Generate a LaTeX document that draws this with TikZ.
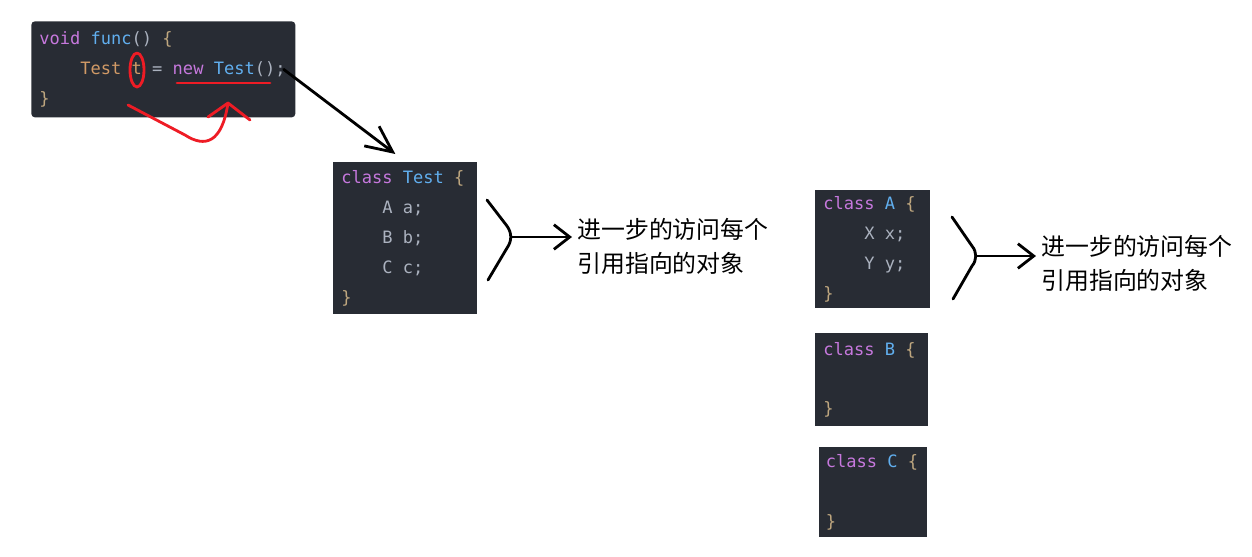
\documentclass[tikz,border=0pt]{standalone}
\usepackage{fontspec}
\setmonofont{DejaVu Sans Mono}[WordSpace={1,0,0}]
\newfontfamily\cjk{Noto Sans CJK SC}
\usepackage{tikz}
\usetikzlibrary{positioning,arrows.meta}
\usepackage{xcolor}
\definecolor{codebg}{HTML}{282C34}
\definecolor{codekw}{HTML}{C678DD}
\definecolor{codefn}{HTML}{61AFEF}
\definecolor{codety}{HTML}{D19A66}
\definecolor{codeplain}{HTML}{ABB2BF}
\definecolor{codebrace}{HTML}{BFA77F}
\definecolor{penred}{HTML}{EE1C25}
\newcommand\ckw[1]{\textcolor{codekw}{#1}}
\newcommand\cfn[1]{\textcolor{codefn}{#1}}
\newcommand\cty[1]{\textcolor{codety}{#1}}
\newcommand\cbr[1]{\textcolor{codebrace}{#1}}
\newcommand\ind{\phantom{XXXX}}

\begin{document}
\begin{tikzpicture}[
  x=0.02cm,y=-0.02cm,
  line cap=round,line join=round,
  code/.style={fill=codebg,anchor=north west,inner xsep=0.16cm,inner ysep=0pt,align=left,
    font=\ttfamily\fontsize{9.7}{17}\selectfont,text=codeplain,
    execute at begin node={\spaceskip=0pt\xspaceskip=0pt\relax}},
  redpen/.style={draw=penred,line width=1.6pt},
  pen/.style={draw=black,line width=1.6pt},
  pointer/.style={pen,-{Straight Barb[length=15pt,width=14pt]}},
  fork/.style={pen,-{Straight Barb[length=9pt,width=14pt]}},
  note/.style={anchor=west,inner sep=0.1cm,align=left,font=\cjk\fontsize{13.6}{19.3}\selectfont}
]
  \path[use as bounding box] (0,0) rectangle (1252,556);

  \node[code,text width=4.96cm,minimum height=1.92cm,rounded corners=2pt] (func) at (31,21)
    {\ckw{void} \cfn{func}() \cbr{\{}\\
     \ind\cty{Test t} = \ckw{new} \cfn{Test}();\\
     \cbr{\}}};

  \draw[redpen] (137,70) ellipse [x radius=0.14cm,y radius=0.34cm];
  \draw[redpen] (177,83) -- (270,83);
  \draw[redpen] (128,105) -- (185,135) .. controls (205,148) and (222,143) .. (228,103);
  \draw[redpen] (208,117) -- (228,103) -- (250,120);

  \node[code,text width=2.56cm,minimum height=3.04cm] (test) at (333,162)
    {\ckw{class} \cfn{Test} \cbr{\{}\\
     \ind A a;\\
     \ind B b;\\
     \ind C c;\\
     \cbr{\}}};

  \draw[pointer] ([xshift=-0.24cm]func.east) -- ([xshift=-0.2cm,yshift=0.16cm]test.north);

  \coordinate (testfork) at (512,237);
  \draw[pen] (487,200) -- (507,226) .. controls (512,233) and (512,241) .. (507,248) -- (488,280);
  \node[note] (testnote) at (572,246) {进一步的访问每个\\引用指向的对象};
  \draw[fork] (testfork) -- (testfork -| testnote.west);

  \node[code,text width=1.98cm,minimum height=2.36cm] (classa) at (815,190)
    {\ckw{class} \cfn{A} \cbr{\{}\\
     \ind X x;\\
     \ind Y y;\\
     \cbr{\}}};
  \node[code,text width=1.94cm,minimum height=1.86cm] (classb) at (815,333)
    {\ckw{class} \cfn{B} \cbr{\{}\\
     \mbox{}\\
     \cbr{\}}};
  \node[code,text width=1.90cm,inner xsep=0.13cm,minimum height=1.80cm] (classc) at (819,447)
    {\ckw{class} \cfn{C} \cbr{\{}\\
     \mbox{}\\
     \cbr{\}}};

  \coordinate (afork) at (977,256);
  \draw[pen] (952,217) -- (972,246) .. controls (977,252) and (977,260) .. (972,266) -- (953,299);
  \node[note] (anote) at (1036,263) {进一步的访问每个\\引用指向的对象};
  \draw[fork] (afork) -- (afork -| anote.west);
\end{tikzpicture}
\end{document}
